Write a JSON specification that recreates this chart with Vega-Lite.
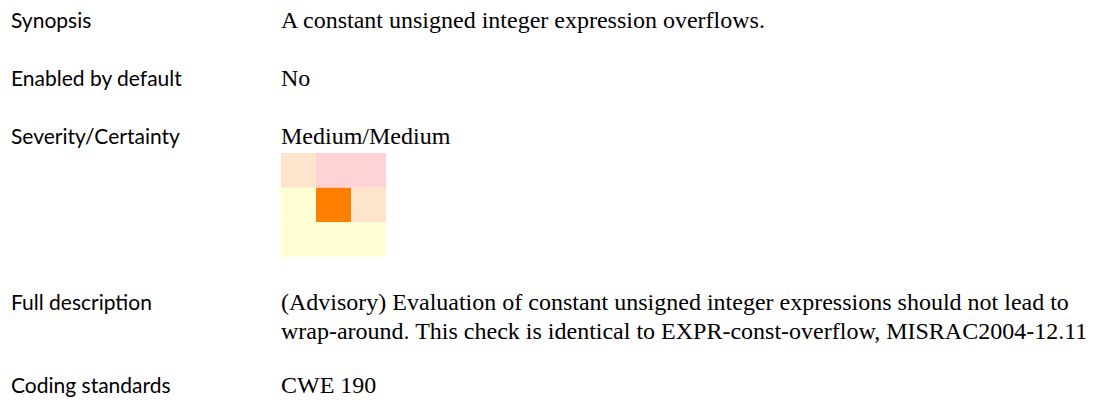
{
  "$schema": "https://vega.github.io/schema/vega-lite/v6.json",
  "width": 1103,
  "height": 403,
  "padding": 0,
  "autosize": {"type": "fit", "contains": "padding"},
  "background": "white",
  "config": {"view": {"stroke": null}},
  "datasets": {
    "cells": [
      {"severity": "High", "certainty": "Low", "shade": "medium"},
      {"severity": "High", "certainty": "Medium", "shade": "high"},
      {"severity": "High", "certainty": "High", "shade": "high"},
      {"severity": "Medium", "certainty": "Low", "shade": "low"},
      {"severity": "Medium", "certainty": "Medium", "shade": "selected"},
      {"severity": "Medium", "certainty": "High", "shade": "medium"},
      {"severity": "Low", "certainty": "Low", "shade": "low"},
      {"severity": "Low", "certainty": "Medium", "shade": "low"},
      {"severity": "Low", "certainty": "High", "shade": "low"}
    ],
    "labels": [
      {"column": "label", "y": 28, "text": "Synopsis"},
      {"column": "label", "y": 86, "text": "Enabled by default"},
      {"column": "label", "y": 144, "text": "Severity/Certainty"},
      {"column": "label", "y": 310, "text": "Full description"},
      {"column": "label", "y": 393, "text": "Coding standards"}
    ],
    "values": [
      {"column": "value", "y": 28, "text": "A constant unsigned integer expression overflows."},
      {"column": "value", "y": 86, "text": "No"},
      {"column": "value", "y": 144, "text": "Medium/Medium"},
      {"column": "value", "y": 310, "text": "(Advisory) Evaluation of constant unsigned integer expressions should not lead to"},
      {"column": "value", "y": 339, "text": "wrap-around. This check is identical to EXPR-const-overflow, MISRAC2004-12.11"},
      {"column": "value", "y": 393, "text": "CWE 190"}
    ]
  },
  "layer": [
    {
      "data": {"name": "cells"},
      "mark": {"type": "rect"},
      "encoding": {
        "x": {"field": "certainty", "type": "nominal", "sort": null,
              "scale": {"type": "band", "domain": ["Low", "Medium", "High"], "range": [281, 386], "paddingInner": 0, "paddingOuter": 0},
              "axis": null},
        "y": {"field": "severity", "type": "nominal", "sort": null,
              "scale": {"type": "band", "domain": ["High", "Medium", "Low"], "range": [153, 257], "paddingInner": 0, "paddingOuter": 0},
              "axis": null},
        "color": {"field": "shade", "type": "nominal",
                  "scale": {"domain": ["low", "medium", "high", "selected"], "range": ["#FFFFD3", "#FFE4CD", "#FFD2D5", "#FF8000"]},
                  "legend": null}
      }
    },
    {
      "data": {"name": "labels"},
      "mark": {"type": "text", "align": "left", "baseline": "alphabetic", "font": "Lato", "fontSize": 21, "color": "#000000"},
      "encoding": {
        "x": {"field": "column", "type": "nominal",
              "scale": {"type": "point", "domain": ["label", "value"], "range": [11, 281], "padding": 0}, "axis": null},
        "y": {"field": "y", "type": "quantitative", "scale": {"domain": [0, 403], "range": [0, 403]}, "axis": null},
        "text": {"field": "text"}
      }
    },
    {
      "data": {"name": "values"},
      "mark": {"type": "text", "align": "left", "baseline": "alphabetic", "font": "Liberation Serif", "fontSize": 24, "color": "#000000"},
      "encoding": {
        "x": {"field": "column", "type": "nominal",
              "scale": {"type": "point", "domain": ["label", "value"], "range": [11, 281], "padding": 0}, "axis": null},
        "y": {"field": "y", "type": "quantitative", "scale": {"domain": [0, 403], "range": [0, 403]}, "axis": null},
        "text": {"field": "text"}
      }
    }
  ],
  "resolve": {"scale": {"x": "independent", "y": "independent", "color": "independent"}}
}
